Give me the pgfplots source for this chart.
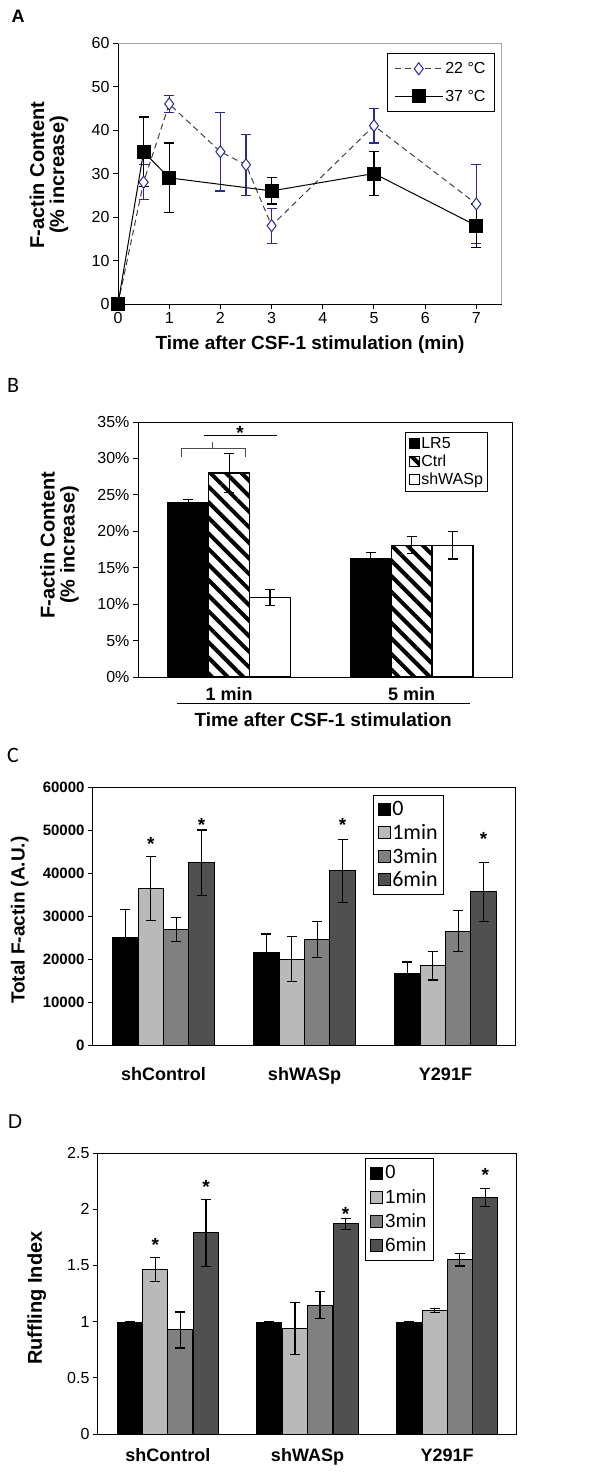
\documentclass[border=0pt]{standalone}
\usepackage{pgfplots}
\pgfplotsset{compat=1.18}
\usepackage{fontspec}
\setmainfont{Liberation Sans}
\newfontfamily\calib{Carlito}
\usetikzlibrary{patterns.meta}
\definecolor{navyb}{RGB}{40,40,150}
\definecolor{g1}{RGB}{185,185,185}
\definecolor{g2}{RGB}{128,128,128}
\definecolor{g3}{RGB}{80,80,80}
\newcommand{\fs}[1]{\fontsize{#1}{#1}\selectfont}
\pgfplotsset{
  every axis/.append style={/pgf/number format/assume math mode=true, scale only axis, anchor=south west, clip=false,
    tick align=outside, major tick length=5pt, axis line style={line width=1pt}, major tick style={line width=1pt, black}},
  eb/.style={error bars/.cd, y dir=both, y explicit, error bar style={line width=1.2pt,black}, error mark options={rotate=90, mark size=5pt, line width=1.2pt, black}},
}
\tikzset{star/.style={font=\bfseries\fs{19}, inner sep=0pt, yshift=-4pt}}
\begin{document}
\begin{tikzpicture}[x=1pt,y=1pt]
\path[use as bounding box] (0pt,0pt) rectangle (593pt,-1476pt);
% ---------------- Panel A
\node[font=\bfseries\fs{18}] at (18pt,-16pt) {A};
\begin{axis}[at={(118pt,-304pt)}, width=384pt, height=261pt,
  xmin=0, xmax=7.5, ymin=0, ymax=60, xtick={0,...,7}, ytick={0,10,...,60},
  axis lines*=left,
  tick label style={font=\fs{16}},
  xlabel={\bfseries Time after CSF-1 stimulation (min)},
  xlabel style={font=\fs{19}, at={(axis description cs:0.5,-0.157)}, anchor=center},
  ylabel={\bfseries F-actin Content\\\bfseries (\% increase)},
  ylabel style={font=\fs{20}, align=center, at={(axis description cs:-0.18,0.494)}, anchor=center},
  legend style={at={(0.70,0.962)}, anchor=north west, font=\fs{16}, draw=black, line width=1pt, row sep=11pt, inner sep=7pt},
  legend cell align=left,
  legend image code/.code={\draw[mark repeat=2,mark phase=2,#1] plot coordinates {(0pt,0pt) (24pt,0pt) (48pt,0pt)};},
]
\draw[gray!70, line width=1pt] (rel axis cs:0,1) -- (rel axis cs:1,1) -- (rel axis cs:1,0);
\addplot[black!75, line width=1pt, dash pattern=on 6pt off 4pt, mark=diamond*, mark size=6pt,
  mark options={solid, fill=white, draw=navyb, line width=1pt},
  error bars/.cd, y dir=both, y explicit, error bar style={navyb, solid, line width=1.2pt}, error mark options={rotate=90, navyb, solid, mark size=5pt, line width=1.2pt}]
  coordinates {(0,0) (0.5,28) +- (0,4) (1,46) +- (0,2) (2,35) +- (0,9) (2.5,32) +- (0,7) (3,18) +- (0,4) (5,41) +- (0,4) (7,23) +- (0,9)};
\addlegendentry{22 °C}
\addplot[black, line width=1pt, mark=square*, mark size=6.5pt, mark options={solid, fill=black},
  error bars/.cd, y dir=both, y explicit, error bar style={black, line width=1.2pt}, error mark options={rotate=90, black, mark size=5pt, line width=1.2pt}]
  coordinates {(0,0) (0.5,35) +- (0,8) (1,29) +- (0,8) (3,26) +- (0,3) (5,30) +- (0,5) (7,18) +- (0,5)};
\addlegendentry{37 °C}
\end{axis}
% ---------------- Panel B
\node[font=\calib\fs{22}] at (13pt,-385pt) {B};
\begin{axis}[at={(138pt,-677pt)}, width=374pt, height=255pt,
  ybar=0pt, bar width=0.224, xmin=-0.5, xmax=1.55, ymin=0, ymax=35,
  xtick={0,1}, xticklabels={1 min, 5 min}, x tick label style={font=\bfseries\fs{18}, yshift=-2pt},
  xtick style={draw=none},
  ytick={0,5,...,35}, yticklabels={0\%,5\%,10\%,15\%,20\%,25\%,30\%,35\%}, y tick label style={font=\fs{16}},
  ytick pos=left, xtick pos=bottom,
  xlabel={\bfseries Time after CSF-1 stimulation},
  xlabel style={font=\fs{19}, at={(axis description cs:0.495,-0.169)}, anchor=center},
  ylabel={\bfseries F-actin Content\\\bfseries (\% increase)},
  ylabel style={font=\fs{20}, align=center, at={(axis description cs:-0.21,0.518)}, anchor=center},
  legend style={at={(0.714,0.961)}, anchor=north west, font=\fs{16}, draw=black, line width=1pt, row sep=1pt, inner sep=3pt},
  legend cell align=left,
  legend image code/.code={\draw[#1, line width=0.8pt] (0pt,-5pt) rectangle (10pt,5pt);},
]
\addplot[fill=black, draw=black, line width=1.2pt, bar shift=-0.224, eb] coordinates {(0,24) +- (0,0.4) (1,16.2) +- (0,0.9)};
\addlegendentry{LR5}
\addplot[pattern={Lines[angle=-45,distance=11pt,line width=4pt]}, draw=black, line width=1.2pt, bar shift=0, eb] coordinates {(0,28) +- (0,2.7) (1,18.1) +- (0,1.2)};
\addlegendentry{Ctrl}
\addplot[fill=white, draw=black, line width=1.2pt, bar shift=0.224, eb] coordinates {(0,10.9) +- (0,1.1) (1,18.1) +- (0,1.9)};
\addlegendentry{shWASp}
\draw[line width=1pt, black!70] (axis cs:-0.26,30.2) -- (axis cs:-0.26,31.3) -- (axis cs:0.09,31.3) -- (axis cs:0.09,30.2);
\draw[line width=1pt, black!70] (axis cs:-0.093,31.3) -- (axis cs:-0.093,32.3);
\draw[line width=1pt, black] (axis cs:-0.14,33.2) -- (axis cs:0.26,33.2);
\node[star] at (axis cs:0.06,34.0) {*};
\draw[line width=1pt] (rel axis cs:0.104,-0.102) -- (rel axis cs:0.888,-0.102);
\end{axis}
% ---------------- Panel C
\node[font=\calib\fs{22}] at (13pt,-755pt) {C};
\begin{axis}[at={(93pt,-1045pt)}, width=423pt, height=258pt,
  ybar=0pt, bar width=0.18, xmin=-0.5, xmax=2.5, ymin=0, ymax=60000,
  xtick={0,1,2}, xticklabels={shControl, shWASp, Y291F}, x tick label style={font=\bfseries\fs{18}, yshift=-14pt},
  xtick style={draw=none},
  ytick={0,10000,...,60000}, scaled y ticks=false, y tick label style={font=\bfseries\fs{15}, /pgf/number format/.cd, fixed, 1000 sep={}},
  ytick pos=left, xtick pos=bottom,
  ylabel={\bfseries Total F-actin (A.U.)},
  ylabel style={font=\fs{19}, at={(axis description cs:-0.173,0.484)}, anchor=center},
  legend style={at={(0.662,0.969)}, anchor=north west, font=\calib\fs{22}, draw=black, line width=1pt, row sep=3pt, inner sep=4pt},
  legend cell align=left,
  legend image code/.code={\draw[#1, line width=0.8pt] (0pt,-6pt) rectangle (12pt,6pt);},
]
\addplot[fill=black, draw=black, line width=1pt, bar shift=-0.27, eb] coordinates {(0,25100) +- (0,6400) (1,21600) +- (0,4200) (2,16600) +- (0,2700)};
\addlegendentry{0}
\addplot[fill=g1, draw=black, line width=1pt, bar shift=-0.09, eb] coordinates {(0,36400) +- (0,7500) (1,20000) +- (0,5300) (2,18400) +- (0,3300)};
\addlegendentry{1min}
\addplot[fill=g2, draw=black, line width=1pt, bar shift=0.09, eb] coordinates {(0,26900) +- (0,2800) (1,24500) +- (0,4200) (2,26500) +- (0,4700)};
\addlegendentry{3min}
\addplot[fill=g3, draw=black, line width=1pt, bar shift=0.27, eb] coordinates {(0,42400) +- (0,7600) (1,40500) +- (0,7300) (2,35600) +- (0,6900)};
\addlegendentry{6min}
\node[star] at (axis cs:-0.09,47600) {*};
\node[star] at (axis cs:0.27,52000) {*};
\node[star] at (axis cs:1.27,52000) {*};
\node[star] at (axis cs:2.27,48900) {*};
\end{axis}
% ---------------- Panel D
\node[font=\fs{20}] at (15pt,-1122pt) {D};
\begin{axis}[at={(98pt,-1434pt)}, width=419pt, height=281pt,
  ybar=0pt, bar width=0.18, xmin=-0.5, xmax=2.5, ymin=0, ymax=2.5,
  xtick={0,1,2}, xticklabels={shControl, shWASp, Y291F}, x tick label style={font=\bfseries\fs{18}, yshift=-6pt},
  xtick style={draw=none},
  ytick={0,0.5,...,2.5}, y tick label style={font=\fs{16}},
  yticklabels={0,0.5,1,1.5,2,2.5},
  ytick pos=left, xtick pos=bottom,
  ylabel={\bfseries Ruffling Index},
  ylabel style={font=\fs{20}, at={(axis description cs:-0.146,0.484)}, anchor=center},
  legend style={at={(0.637,0.982)}, anchor=north west, font=\fs{19}, draw=black, line width=1pt, row sep=5pt, inner sep=5pt},
  legend cell align=left,
  legend image code/.code={\draw[#1, line width=0.8pt] (0pt,-6pt) rectangle (12pt,6pt);},
]
\addplot[fill=black, draw=black, line width=1pt, bar shift=-0.273, eb] coordinates {(0,0.99) +- (0,0.01) (1,0.99) +- (0,0.01) (2,0.99) +- (0,0.01)};
\addlegendentry{0}
\addplot[fill=g1, draw=black, line width=1pt, bar shift=-0.09, eb] coordinates {(0,1.465) +- (0,0.105) (1,0.94) +- (0,0.23) (2,1.10) +- (0,0.02)};
\addlegendentry{1min}
\addplot[fill=g2, draw=black, line width=1pt, bar shift=0.09, eb] coordinates {(0,0.926) +- (0,0.16) (1,1.145) +- (0,0.12) (2,1.55) +- (0,0.055)};
\addlegendentry{3min}
\addplot[fill=g3, draw=black, line width=1pt, bar shift=0.273, eb] coordinates {(0,1.79) +- (0,0.3) (1,1.87) +- (0,0.05) (2,2.105) +- (0,0.08)};
\addlegendentry{6min}
\node[star] at (axis cs:-0.09,1.72) {*};
\node[star] at (axis cs:0.273,2.23) {*};
\node[star] at (axis cs:1.273,1.99) {*};
\node[star] at (axis cs:2.273,2.34) {*};
\end{axis}
\end{tikzpicture}
\end{document}
